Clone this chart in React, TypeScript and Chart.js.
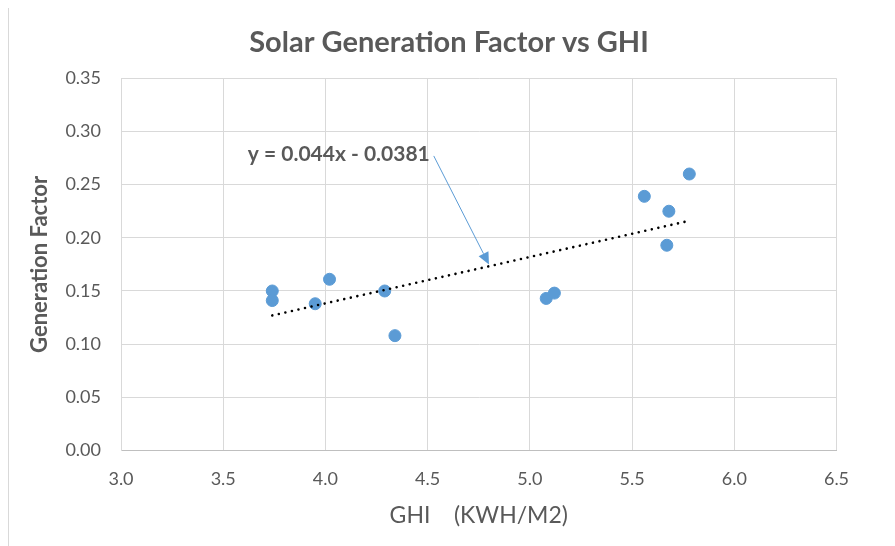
import React, { useEffect, useRef } from "react";
import { Chart, registerables } from "chart.js";

Chart.register(...registerables);

// ---- data ----
const ghi = [3.74, 3.74, 3.95, 4.02, 4.29, 4.34, 5.08, 5.12, 5.56, 5.67, 5.68, 5.78];
const genFactor = [0.150, 0.141, 0.138, 0.161, 0.150, 0.108, 0.143, 0.148, 0.239, 0.193, 0.225, 0.260];

// linear trendline endpoints (y = 0.044x - 0.0381)
const trendX = [3.74, 5.78];
const trendY = [0.127, 0.216];

const chartTitle = "Solar Generation Factor vs GHI";
const xTitle = "GHI    (KWH/M2)";
const yTitle = "Generation Factor";
const equationText = "y = 0.044x - 0.0381";

// annotation anchor points, in data units
const labelAnchor = [3.62, 0.279];
const arrowFrom = [4.53, 0.277];
const arrowTo = [4.80, 0.175];

const xRange = [3.0, 6.5, 0.5];
const yRange = [0, 0.35, 0.05];

const FONT = "Lato, 'Open Sans', sans-serif";
const TEXT = "#595959";
const GRID = "#d9d9d9";
const BLUE = "#5b9bd5";

const annotationPlugin = {
  id: "equationAnnotation",
  afterDatasetsDraw(chart: any) {
    const { ctx, scales } = chart;
    const xs = scales.x;
    const ys = scales.y;
    ctx.save();
    // arrow
    const x1 = xs.getPixelForValue(arrowFrom[0]);
    const y1 = ys.getPixelForValue(arrowFrom[1]);
    const x2 = xs.getPixelForValue(arrowTo[0]);
    const y2 = ys.getPixelForValue(arrowTo[1]);
    const ang = Math.atan2(y2 - y1, x2 - x1);
    const head = 12;
    const hw = 5.5;
    const bx = x2 - head * Math.cos(ang);
    const by = y2 - head * Math.sin(ang);
    ctx.strokeStyle = BLUE;
    ctx.lineWidth = 1;
    ctx.beginPath();
    ctx.moveTo(x1, y1);
    ctx.lineTo(bx, by);
    ctx.stroke();
    ctx.fillStyle = BLUE;
    ctx.beginPath();
    ctx.moveTo(x2, y2);
    ctx.lineTo(bx - hw * Math.sin(ang), by + hw * Math.cos(ang));
    ctx.lineTo(bx + hw * Math.sin(ang), by - hw * Math.cos(ang));
    ctx.closePath();
    ctx.fill();
    // label
    ctx.font = `bold 21px ${FONT}`;
    ctx.fillStyle = TEXT;
    ctx.textAlign = "left";
    ctx.textBaseline = "middle";
    ctx.fillText(equationText, xs.getPixelForValue(labelAnchor[0]), ys.getPixelForValue(labelAnchor[1]));
    ctx.restore();
  },
};

export default function App() {
  const ref = useRef<HTMLCanvasElement | null>(null);

  useEffect(() => {
    if (!ref.current) return;
    const chart = new Chart(ref.current, {
      type: "scatter",
      data: {
        datasets: [
          {
            type: "line",
            label: "Trend",
            data: trendX.map((x, i) => ({ x, y: trendY[i] })),
            borderColor: "#000000",
            borderWidth: 2.6,
            borderDash: [0.01, 6.7],
            borderCapStyle: "round",
            pointRadius: 0,
            fill: false,
          } as any,
          {
            label: "Generation Factor",
            data: ghi.map((x, i) => ({ x, y: genFactor[i] })),
            backgroundColor: BLUE,
            borderColor: BLUE,
            pointRadius: 6,
            pointHoverRadius: 6,
          },
        ],
      },
      options: {
        responsive: false,
        animation: false,
        layout: { padding: 0 },
        plugins: {
          legend: { display: false },
          tooltip: { enabled: false },
          title: {
            display: true,
            text: chartTitle,
            color: TEXT,
            font: { family: FONT, size: 29, weight: "bold" },
            padding: { top: 19.6, bottom: 17.9 },
          },
        },
        scales: {
          x: {
            type: "linear",
            min: xRange[0],
            max: xRange[1],
            ticks: {
              stepSize: xRange[2],
              color: TEXT,
              font: { family: FONT, size: 18 },
              padding: 18,
              callback: (v: any) => Number(v).toFixed(1),
            },
            grid: { color: GRID, lineWidth: 1, drawTicks: false },
            border: { color: "#bfbfbf", width: 1 },
            title: {
              display: true,
              text: xTitle,
              color: TEXT,
              font: { family: FONT, size: 23 },
              padding: { top: 0, bottom: 16.2 },
            },
            afterFit: (s: any) => {
              s.height = 95.5;
            },
          },
          y: {
            type: "linear",
            min: yRange[0],
            max: yRange[1],
            ticks: {
              stepSize: yRange[2],
              color: TEXT,
              font: { family: FONT, size: 18 },
              padding: 20,
              callback: (v: any) => Number(v).toFixed(2),
            },
            grid: { color: GRID, lineWidth: 1, drawTicks: false },
            border: { color: GRID, width: 1 },
            title: {
              display: true,
              text: yTitle,
              color: TEXT,
              font: { family: FONT, size: 22, weight: "bold" },
              padding: { top: 17.8, bottom: 0 },
            },
            afterFit: (s: any) => {
              s.width = 112;
            },
          },
          // empty right-hand spacer scale (keeps the plot's right margin)
          yRight: {
            type: "linear",
            position: "right",
            min: yRange[0],
            max: yRange[1],
            ticks: { display: false },
            grid: { display: false, drawTicks: false },
            border: { display: false },
            afterFit: (s: any) => {
              s.width = 52.5;
            },
          },
        },
      },
      plugins: [annotationPlugin],
    });
    return () => chart.destroy();
  }, []);

  return (
    <div
      style={{
        width: 882,
        height: 548,
        marginTop: -3,
        border: `1px solid ${GRID}`,
        boxSizing: "border-box",
        background: "#ffffff",
      }}
    >
      <canvas ref={ref} width={880} height={540} style={{ display: "block" }} />
    </div>
  );
}
